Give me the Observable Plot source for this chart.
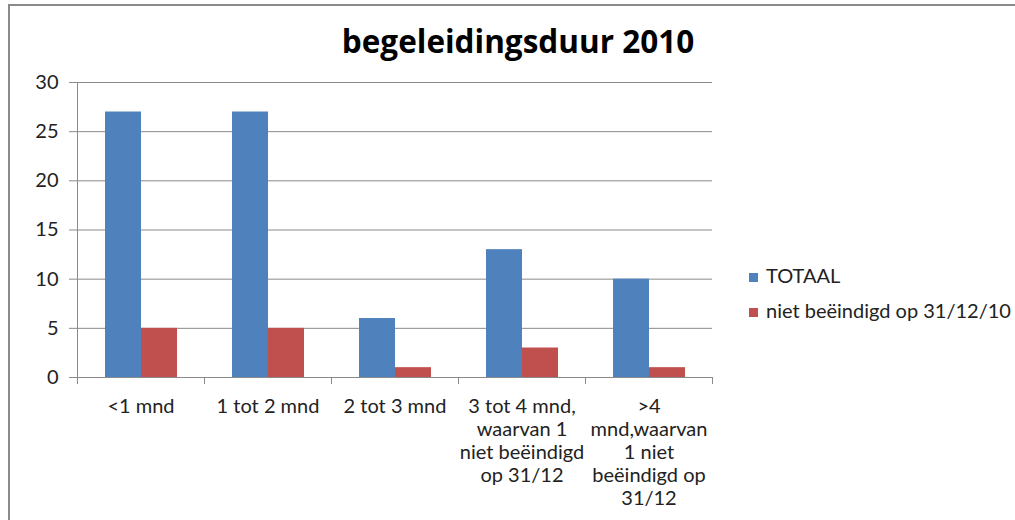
<!DOCTYPE html>
<html><head><meta charset="utf-8">
<script src="https://cdn.jsdelivr.net/npm/d3@7"></script>
<script src="https://cdn.jsdelivr.net/npm/@observablehq/plot@0.6"></script>
<style>
body{margin:0;background:#fff;font-family:Lato,sans-serif;}
#wrap{position:relative;width:1015px;height:520px;overflow:hidden;background:#fff;}
#border{position:absolute;left:8px;top:4px;width:1100px;height:600px;border-top:2px solid #8a8a8a;border-left:2px solid #8a8a8a;}
#title{position:absolute;left:318px;width:400px;top:21px;text-align:center;font-family:"Open Sans",sans-serif;font-weight:bold;font-size:31.5px;line-height:40px;color:#000;white-space:nowrap;}
#chart{position:absolute;left:0;top:62px;}
.leg{position:absolute;left:749px;font-size:20px;color:#222;white-space:nowrap;line-height:20px;}
.sw{display:inline-block;width:9px;height:9px;margin-right:8px;vertical-align:1px;}
</style></head>
<body>
<div id="wrap">
<div id="border"></div>
<div id="title">begeleidingsduur 2010</div>
<div id="chart"></div>
<div id="legend"></div>
</div>
<script>
const categories = ["<1 mnd","1 tot 2 mnd","2 tot 3 mnd","3 tot 4 mnd, waarvan 1 niet beëindigd op 31/12",">4 mnd,waarvan 1 niet beëindigd op 31/12"];
const tickLabels = ["<1 mnd","1 tot 2 mnd","2 tot 3 mnd","3 tot 4 mnd,\nwaarvan 1\nniet beëindigd\nop 31/12",">4\nmnd,waarvan\n1 niet\nbeëindigd op\n31/12"];
const series = ["TOTAAL","niet beëindigd op 31/12/10"];
const totaal = [27,27,6,13,10];
const nietBeeindigd = [5,5,1,3,1];
const yTicks = [0,5,10,15,20,25,30];
const colors = ["#4F81BD","#C0504D"];

const data = categories.flatMap((c,i)=>[
  {cat:c, series:series[0], value:totaal[i]},
  {cat:c, series:series[1], value:nietBeeindigd[i]}
]);

const grey = "#8a8a8a";
const chart = Plot.plot({
  width:1015, height:458,
  marginLeft:75, marginRight:302, marginTop:20, marginBottom:143,
  style:{fontFamily:"Lato, sans-serif", fontSize:"20px", color:"#222", background:"transparent"},
  fx:{domain:categories, padding:0, label:null},
  x:{domain:series, paddingInner:0, paddingOuter:0.75, axis:null},
  y:{domain:[0,30], axis:null},
  color:{domain:series, range:colors},
  marks:[
    Plot.gridY({ticks:yTicks.slice(1), stroke:grey, strokeOpacity:1}),
    Plot.barY(data,{fx:"cat", x:"series", y:"value", fill:"series"}),
    Plot.ruleY([0],{stroke:grey}),
    Plot.frame({anchor:"left", facetAnchor:"left", stroke:grey}),
    Plot.frame({anchor:"left", stroke:grey, insetTop:295, insetBottom:-6}),
    Plot.frame({anchor:"right", facetAnchor:"right", stroke:grey, insetTop:295, insetBottom:-6}),
    Plot.axisY({ticks:yTicks, tickSize:8, tickPadding:11, stroke:grey, fill:"#222", fontSize:20, label:null}),
    Plot.axisFx({anchor:"bottom", tickSize:0, tickPadding:19, lineHeight:1.15, fill:"#222", fontSize:20,
      tickFormat:(d)=>tickLabels[categories.indexOf(d)], label:null})
  ]
});
document.getElementById("chart").appendChild(chart);

const legend = document.getElementById("legend");
series.forEach((s,i)=>{
  const d = document.createElement("div");
  d.className = "leg";
  d.style.top = (265 + i*35) + "px";
  d.innerHTML = `<span class="sw" style="background:${colors[i]}"></span>`;
  d.appendChild(document.createTextNode(s));
  legend.appendChild(d);
});
</script>
</body></html>
